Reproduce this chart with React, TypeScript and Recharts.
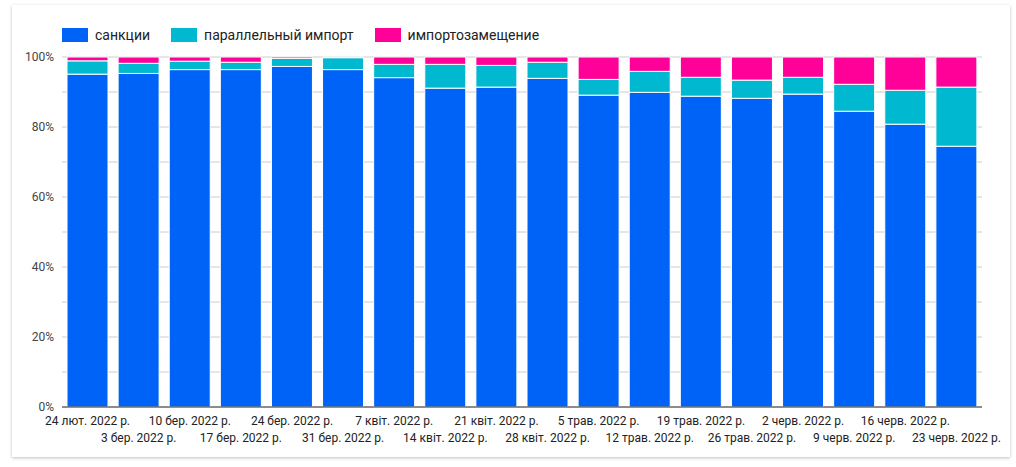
import { BarChart, Bar, XAxis, YAxis, CartesianGrid } from 'recharts';

const weeks = [
  '24 лют. 2022 р.', '3 бер. 2022 р.', '10 бер. 2022 р.', '17 бер. 2022 р.', '24 бер. 2022 р.',
  '31 бер. 2022 р.', '7 квіт. 2022 р.', '14 квіт. 2022 р.', '21 квіт. 2022 р.', '28 квіт. 2022 р.',
  '5 трав. 2022 р.', '12 трав. 2022 р.', '19 трав. 2022 р.', '26 трав. 2022 р.', '2 черв. 2022 р.',
  '9 черв. 2022 р.', '16 черв. 2022 р.', '23 черв. 2022 р.',
];

const sanctions = [95.1, 95.3, 96.4, 96.4, 97.3, 96.4, 94.1, 91.1, 91.4, 93.9, 89.1, 89.9, 88.8, 88.2, 89.4, 84.5, 80.8, 74.5];
const parallelImport = [3.8, 2.9, 2.4, 2.1, 2.3, 3.4, 3.8, 6.8, 6.2, 4.6, 4.5, 6.0, 5.4, 5.2, 4.8, 7.7, 9.7, 16.9];
const importSubstitution = [1.1, 1.8, 1.2, 1.5, 0.4, 0.2, 2.1, 2.1, 2.4, 1.5, 6.4, 4.1, 5.8, 6.6, 5.8, 7.8, 9.5, 8.6];

const yTicks = [0, 0.1, 0.2, 0.3, 0.4, 0.5, 0.6, 0.7, 0.8, 0.9, 1];

const series = [
  { key: 'sanctions', name: 'санкции', color: '#0063f7' },
  { key: 'parallel', name: 'параллельный импорт', color: '#00b8d0' },
  { key: 'substitution', name: 'импортозамещение', color: '#ff0099' },
];

const data = weeks.map((week, i) => ({
  week,
  sanctions: sanctions[i],
  parallel: parallelImport[i],
  substitution: importSubstitution[i],
}));

const FONT = 'Roboto, Arial, sans-serif';

function WeekTick({ x, y, payload, index }: any) {
  // alternate labels between two rows so they don't overlap
  const dy = index % 2 === 0 ? 10 : 27;
  return (
    <text x={x} y={y} dy={dy} textAnchor="middle" fill="#222" fontSize={12} fontFamily={FONT}>
      {payload.value}
    </text>
  );
}

export default function App() {
  return (
    <div
      style={{
        position: 'absolute',
        left: 12,
        top: 5,
        width: 998,
        height: 452,
        background: '#fff',
        boxShadow: '0 1px 3px rgba(0,0,0,0.25)',
        fontFamily: FONT,
      }}
    >
      <div style={{ position: 'absolute', left: 50, top: 22, display: 'flex', alignItems: 'center', fontSize: 14, color: '#222' }}>
        {series.map((s) => (
          <div key={s.key} style={{ display: 'flex', alignItems: 'center', marginRight: 21 }}>
            <span style={{ width: 26, height: 14, background: s.color, marginRight: 7, display: 'inline-block' }} />
            <span>{s.name}</span>
          </div>
        ))}
      </div>
      <BarChart
        width={998}
        height={452}
        data={data}
        stackOffset="expand"
        barSize={41}
        margin={{ top: 52, right: 28, bottom: 0, left: 0 }}
      >
        <CartesianGrid vertical={false} stroke="#cccccc" />
        <XAxis
          dataKey="week"
          interval={0}
          tickLine={false}
          axisLine={{ stroke: '#333' }}
          tick={<WeekTick />}
          height={50}
        />
        <YAxis
          ticks={yTicks}
          domain={[0, 1]}
          width={50}
          axisLine={false}
          tickLine={false}
          tickSize={0}
          tickMargin={8}
          tick={{ fill: '#444', fontSize: 12, fontFamily: FONT }}
          tickFormatter={(v: number) => {
            const pct = Math.round(v * 100);
            return pct % 20 === 0 ? `${pct}%` : '';
          }}
        />
        {series.map((s) => (
          <Bar
            key={s.key}
            dataKey={s.key}
            name={s.name}
            stackId="a"
            fill={s.color}
            stroke="#fff"
            strokeWidth={1}
            isAnimationActive={false}
          />
        ))}
      </BarChart>
    </div>
  );
}
